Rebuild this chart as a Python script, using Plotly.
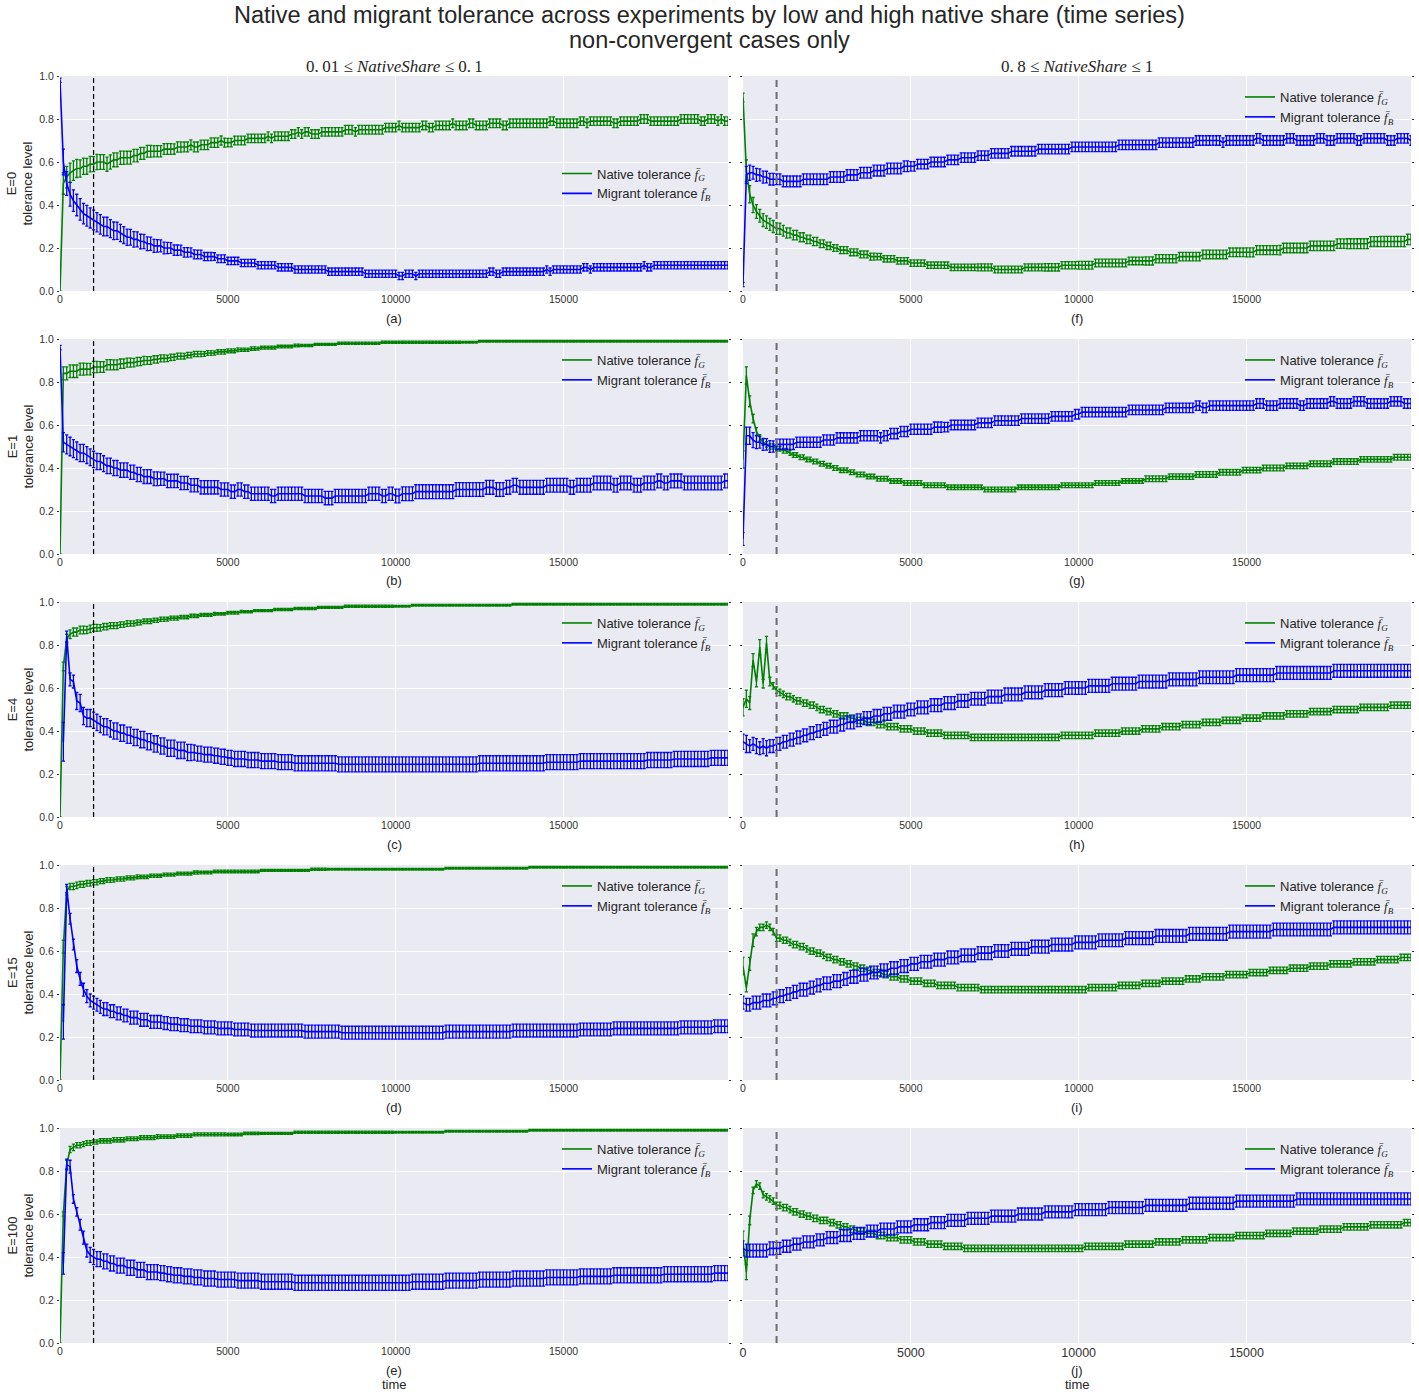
import plotly.graph_objects as go

W, H = 1419, 1392

# ---------------------------------------------------------------- data
time = list(range(0, 20000, 100))
burn_in = 1000
exposure_labels = ["E=0", "E=1", "E=4", "E=15", "E=100"]
panel_letters = ["a", "b", "c", "d", "e", "f", "g", "h", "i", "j"]
column_titles = ["0.\u200901 \u2264 <i>NativeShare</i> \u2264 0.\u20091",
                 "0.\u20098 \u2264 <i>NativeShare</i> \u2264 1"]
title_lines = ["Native and migrant tolerance across experiments by low and "
               "high native share (time series)",
               "non-convergent cases only"]
x_ticks = [0, 5000, 10000, 15000]
y_ticks = [0.0, 0.2, 0.4, 0.6, 0.8, 1.0]

# mean tolerance in percent, error half-widths in thousandths

# (a) E=0, low native share
a_native = [
    0, 50, 53, 55, 56, 57, 57, 58, 58, 59,
    59, 60, 60, 60, 59, 60, 61, 61, 62, 62,
    62, 62, 63, 63, 64, 64, 65, 65, 65, 65,
    65, 66, 66, 66, 66, 67, 67, 67, 67, 68,
    67, 67, 68, 68, 68, 69, 69, 69, 70, 69,
    69, 69, 70, 70, 70, 70, 71, 71, 71, 71,
    71, 71, 72, 71, 72, 72, 72, 72, 72, 73,
    73, 74, 73, 74, 74, 73, 73, 73, 74, 74,
    74, 74, 74, 74, 74, 75, 75, 75, 74, 75,
    75, 75, 75, 75, 75, 75, 75, 76, 76, 76,
    76, 77, 76, 76, 76, 76, 76, 76, 77, 77,
    76, 76, 77, 77, 77, 77, 77, 78, 77, 77,
    77, 77, 78, 78, 77, 77, 77, 77, 78, 78,
    78, 78, 77, 77, 78, 78, 78, 78, 78, 78,
    78, 78, 78, 78, 78, 78, 79, 79, 78, 78,
    78, 78, 78, 78, 78, 79, 79, 78, 79, 79,
    79, 79, 79, 79, 79, 78, 78, 79, 79, 79,
    79, 79, 79, 80, 80, 80, 79, 79, 79, 79,
    79, 79, 79, 79, 79, 80, 80, 80, 80, 80,
    80, 79, 79, 80, 80, 80, 79, 80, 79, 79,
]
a_native_err = [
    0, 50, 50, 45, 45, 42, 40, 38, 37, 36,
    35, 35, 34, 34, 33, 33, 32, 32, 31, 31,
    30, 30, 29, 29, 28, 28, 27, 27, 26, 26,
    26, 25, 25, 25, 24, 24, 24, 23, 23, 23,
    23, 23, 22, 22, 22, 22, 22, 22, 21, 21,
    20, 20, 20, 20, 20, 20, 20, 20, 20, 20,
    20, 20, 20, 20, 20, 20, 20, 20, 20, 20,
    20, 20, 20, 20, 20, 20, 20, 20, 20, 20,
    20, 20, 20, 20, 20, 20, 20, 20, 20, 20,
    20, 20, 20, 20, 20, 20, 20, 20, 20, 20,
    20, 20, 20, 20, 20, 20, 20, 20, 20, 20,
    20, 20, 20, 20, 20, 20, 20, 20, 20, 20,
    20, 20, 20, 20, 20, 20, 20, 20, 20, 20,
    20, 20, 20, 20, 20, 20, 20, 20, 20, 20,
    20, 20, 20, 20, 20, 20, 20, 20, 20, 20,
    20, 20, 20, 20, 20, 20, 20, 20, 20, 20,
    20, 20, 20, 20, 20, 20, 20, 20, 20, 20,
    20, 20, 20, 20, 20, 20, 20, 20, 20, 20,
    20, 20, 20, 20, 20, 20, 20, 20, 20, 20,
    20, 20, 20, 20, 20, 20, 20, 20, 20, 20,
]
a_migrant = [
    98, 60, 50, 45, 42, 40, 38, 36, 35, 34,
    33, 32, 31, 30, 30, 29, 28, 28, 27, 26,
    25, 25, 24, 24, 23, 23, 22, 22, 21, 21,
    21, 20, 20, 20, 19, 19, 19, 18, 18, 18,
    17, 17, 17, 16, 16, 16, 16, 15, 15, 15,
    14, 14, 14, 14, 13, 13, 13, 13, 13, 12,
    12, 12, 12, 12, 12, 11, 11, 11, 11, 11,
    10, 10, 10, 10, 10, 10, 10, 10, 10, 10,
    9, 9, 9, 9, 9, 9, 9, 9, 9, 9,
    9, 8, 8, 8, 8, 8, 8, 8, 8, 8,
    8, 7, 7, 8, 8, 8, 7, 8, 8, 8,
    8, 8, 8, 8, 8, 8, 8, 8, 8, 8,
    8, 8, 8, 8, 8, 8, 8, 8, 9, 9,
    8, 8, 9, 9, 9, 9, 9, 9, 9, 9,
    9, 9, 9, 9, 9, 10, 9, 10, 10, 10,
    10, 10, 10, 10, 10, 10, 11, 11, 10, 11,
    11, 11, 11, 11, 11, 11, 11, 11, 11, 11,
    11, 11, 11, 11, 12, 11, 11, 12, 12, 12,
    12, 12, 12, 12, 12, 12, 12, 12, 12, 12,
    12, 12, 12, 12, 12, 12, 12, 12, 12, 12,
]
a_migrant_err = [
    10, 60, 55, 55, 50, 50, 50, 48, 48, 47,
    46, 45, 45, 44, 43, 42, 41, 40, 40, 39,
    38, 37, 36, 35, 34, 33, 32, 31, 30, 29,
    28, 27, 26, 25, 24, 24, 23, 22, 22, 21,
    21, 20, 20, 19, 19, 19, 18, 18, 18, 18,
    17, 17, 17, 17, 17, 17, 17, 17, 17, 17,
    17, 17, 17, 17, 17, 17, 17, 17, 17, 17,
    17, 17, 17, 17, 17, 17, 17, 17, 17, 17,
    17, 17, 17, 17, 17, 17, 17, 17, 17, 17,
    17, 17, 17, 17, 17, 17, 17, 17, 17, 17,
    17, 17, 17, 17, 17, 17, 17, 17, 17, 17,
    17, 17, 17, 17, 17, 17, 17, 17, 17, 17,
    17, 17, 17, 17, 17, 17, 17, 17, 17, 17,
    17, 17, 17, 17, 17, 17, 17, 17, 17, 17,
    17, 17, 17, 17, 17, 17, 17, 17, 17, 17,
    17, 17, 17, 17, 17, 17, 17, 17, 17, 17,
    17, 17, 17, 17, 17, 17, 17, 17, 17, 17,
    17, 17, 17, 17, 17, 17, 17, 17, 17, 17,
    17, 17, 17, 17, 17, 17, 17, 17, 17, 17,
    17, 17, 17, 17, 17, 17, 17, 17, 17, 17,
]

# (b) E=1, low native share
b_native = [
    0, 84, 84, 85, 85, 85, 86, 86, 86, 86,
    87, 87, 87, 87, 88, 88, 88, 88, 88.5, 88.5,
    89, 89, 89, 89.5, 89.5, 90, 90, 90, 90.5, 90.5,
    91, 91, 91, 91.5, 91.5, 92, 92, 92, 92.5, 92.5,
    93, 93, 93, 93, 93.5, 93.5, 93.5, 94, 94, 94,
    94.5, 94.5, 94.5, 95, 95, 95, 95, 95.5, 95.5, 95.5,
    96, 96, 96, 96, 96, 96.5, 96.5, 96.5, 96.5, 96.5,
    97, 97, 97, 97, 97, 97, 97.5, 97.5, 97.5, 97.5,
    97.5, 97.5, 97.5, 98, 98, 98, 98, 98, 98, 98,
    98, 98, 98, 98, 98, 98, 98.5, 98.5, 98.5, 98.5,
    98.5, 98.5, 98.5, 98.5, 98.5, 98.5, 98.5, 98.5, 98.5, 98.5,
    98.5, 98.5, 98.5, 98.5, 98.5, 98.5, 98.5, 98.5, 98.5, 98.5,
    98.5, 98.5, 98.5, 98.5, 98.5, 99, 99, 99, 99, 99,
    99, 99, 99, 99, 99, 99, 99, 99, 99, 99,
    99, 99, 99, 99, 99, 99, 99, 99, 99, 99,
    99, 99, 99, 99, 99, 99, 99, 99, 99, 99,
    99, 99, 99, 99, 99, 99, 99, 99, 99, 99,
    99, 99, 99, 99, 99, 99, 99, 99, 99, 99,
    99, 99, 99, 99, 99, 99, 99, 99, 99, 99,
    99, 99, 99, 99, 99, 99, 99, 99, 99, 99,
]
b_native_err = [
    0, 30, 30, 30, 29, 29, 28, 28, 27, 27,
    26, 26, 25, 25, 24, 24, 23, 23, 22, 22,
    21, 21, 20, 20, 19, 19, 18, 18, 17, 17,
    16, 16, 15, 15, 14, 14, 14, 13, 13, 13,
    12, 12, 12, 11, 11, 11, 10, 10, 10, 10,
    9, 9, 9, 9, 8, 8, 8, 8, 8, 7,
    7, 7, 7, 7, 7, 6, 6, 6, 6, 6,
    6, 6, 5, 5, 5, 5, 5, 5, 5, 5,
    5, 5, 5, 5, 5, 5, 5, 5, 5, 5,
    5, 5, 5, 5, 5, 5, 5, 5, 5, 5,
    5, 5, 5, 5, 5, 5, 5, 5, 5, 5,
    5, 5, 5, 5, 5, 5, 5, 5, 5, 5,
    4, 4, 4, 4, 4, 4, 4, 4, 4, 4,
    4, 4, 4, 4, 4, 4, 4, 4, 4, 4,
    4, 4, 4, 4, 4, 4, 4, 4, 4, 4,
    4, 4, 4, 4, 4, 4, 4, 4, 4, 4,
    4, 4, 4, 4, 4, 4, 4, 4, 4, 4,
    4, 4, 4, 4, 4, 4, 4, 4, 4, 4,
    4, 4, 4, 4, 4, 4, 4, 4, 4, 4,
    4, 4, 4, 4, 4, 4, 4, 4, 4, 4,
]
b_migrant = [
    96, 52, 51, 50, 49, 48, 47, 47, 46, 45,
    44, 43, 43, 42, 41, 41, 40, 40, 39, 39,
    39, 38, 38, 37, 37, 36, 36, 36, 35, 35,
    35, 35, 34, 34, 34, 34, 33, 33, 33, 32,
    32, 32, 31, 31, 31, 31, 31, 31, 30, 30,
    30, 29, 29, 30, 30, 29, 29, 28, 28, 28,
    28, 28, 28, 27, 27, 28, 28, 28, 28, 28,
    28, 28, 28, 27, 27, 27, 27, 27, 27, 26,
    26, 26, 27, 27, 27, 27, 27, 27, 27, 27,
    27, 27, 28, 28, 28, 28, 27, 27, 28, 28,
    27, 27, 28, 28, 28, 28, 29, 29, 29, 29,
    29, 29, 29, 29, 29, 29, 29, 29, 30, 30,
    30, 30, 30, 30, 30, 30, 30, 31, 31, 31,
    30, 30, 30, 31, 31, 32, 32, 31, 31, 31,
    31, 31, 31, 31, 31, 32, 32, 32, 32, 32,
    32, 32, 31, 31, 32, 32, 32, 32, 32, 33,
    33, 33, 33, 33, 33, 32, 32, 33, 33, 33,
    33, 32, 32, 32, 33, 33, 33, 33, 34, 34,
    33, 33, 34, 34, 34, 34, 33, 33, 33, 33,
    33, 33, 33, 33, 33, 33, 33, 33, 34, 34,
]
b_migrant_err = [
    10, 45, 44, 43, 42, 41, 40, 40, 39, 39,
    38, 38, 37, 37, 36, 36, 35, 35, 34, 34,
    34, 33, 33, 33, 33, 32, 32, 32, 32, 32,
    31, 31, 31, 31, 31, 31, 31, 31, 31, 31,
    31, 31, 31, 31, 31, 31, 31, 31, 31, 31,
    31, 31, 31, 31, 31, 31, 31, 31, 31, 31,
    31, 31, 31, 31, 31, 31, 31, 31, 31, 31,
    31, 31, 31, 31, 31, 31, 31, 31, 31, 31,
    31, 31, 31, 31, 31, 31, 31, 31, 31, 31,
    31, 31, 31, 31, 31, 31, 31, 31, 31, 31,
    32, 32, 32, 32, 32, 32, 32, 32, 32, 32,
    32, 32, 32, 32, 32, 32, 32, 32, 32, 32,
    32, 32, 32, 32, 32, 32, 32, 32, 32, 32,
    32, 32, 32, 32, 32, 32, 32, 32, 32, 32,
    32, 32, 32, 32, 32, 32, 32, 32, 32, 32,
    32, 32, 32, 32, 32, 32, 32, 32, 32, 32,
    32, 32, 32, 32, 32, 32, 32, 32, 32, 32,
    32, 32, 32, 32, 32, 32, 32, 32, 32, 32,
    32, 32, 32, 32, 32, 32, 32, 32, 32, 32,
    32, 32, 32, 32, 32, 32, 32, 32, 32, 32,
]

# (c) E=4, low native share
c_native = [
    0, 70, 83, 85, 86, 86, 87, 87, 87, 87.5,
    88, 88, 88, 88.5, 88.5, 89, 89, 89, 89.5, 89.5,
    90, 90, 90, 90.5, 90.5, 91, 91, 91, 91.5, 91.5,
    92, 92, 92, 92.5, 92.5, 92.5, 93, 93, 93, 93.5,
    93.5, 93.5, 94, 94, 94, 94, 94.5, 94.5, 94.5, 94.5,
    95, 95, 95, 95, 95.5, 95.5, 95.5, 95.5, 96, 96,
    96, 96, 96, 96, 96.5, 96.5, 96.5, 96.5, 96.5, 96.5,
    97, 97, 97, 97, 97, 97, 97, 97.5, 97.5, 97.5,
    97.5, 97.5, 97.5, 97.5, 97.5, 98, 98, 98, 98, 98,
    98, 98, 98, 98, 98, 98, 98, 98, 98, 98,
    98, 98, 98, 98, 98, 98.5, 98.5, 98.5, 98.5, 98.5,
    98.5, 98.5, 98.5, 98.5, 98.5, 98.5, 98.5, 98.5, 98.5, 98.5,
    98.5, 98.5, 98.5, 98.5, 98.5, 98.5, 98.5, 98.5, 98.5, 98.5,
    98.5, 98.5, 98.5, 98.5, 98.5, 99, 99, 99, 99, 99,
    99, 99, 99, 99, 99, 99, 99, 99, 99, 99,
    99, 99, 99, 99, 99, 99, 99, 99, 99, 99,
    99, 99, 99, 99, 99, 99, 99, 99, 99, 99,
    99, 99, 99, 99, 99, 99, 99, 99, 99, 99,
    99, 99, 99, 99, 99, 99, 99, 99, 99, 99,
    99, 99, 99, 99, 99, 99, 99, 99, 99, 99,
]
c_native_err = [
    0, 20, 20, 20, 19, 19, 18, 18, 17, 17,
    16, 16, 15, 15, 15, 14, 14, 14, 13, 13,
    13, 12, 12, 12, 11, 11, 11, 11, 10, 10,
    10, 10, 9, 9, 9, 9, 8, 8, 8, 8,
    8, 7, 7, 7, 7, 7, 7, 6, 6, 6,
    6, 6, 6, 6, 6, 5, 5, 5, 5, 5,
    5, 5, 5, 5, 5, 5, 5, 5, 5, 5,
    5, 5, 5, 5, 5, 5, 5, 5, 5, 5,
    5, 5, 5, 5, 5, 5, 5, 5, 5, 5,
    5, 5, 5, 5, 5, 5, 5, 5, 5, 5,
    4, 4, 4, 4, 4, 4, 4, 4, 4, 4,
    4, 4, 4, 4, 4, 4, 4, 4, 4, 4,
    4, 4, 4, 4, 4, 4, 4, 4, 4, 4,
    4, 4, 4, 4, 4, 4, 4, 4, 4, 4,
    4, 4, 4, 4, 4, 4, 4, 4, 4, 4,
    4, 4, 4, 4, 4, 4, 4, 4, 4, 4,
    4, 4, 4, 4, 4, 4, 4, 4, 4, 4,
    4, 4, 4, 4, 4, 4, 4, 4, 4, 4,
    4, 4, 4, 4, 4, 4, 4, 4, 4, 4,
    4, 4, 4, 4, 4, 4, 4, 4, 4, 4,
]
c_migrant = [
    None, 35, 84, 64, 63, 54, 53, 47, 46, 46,
    45, 44, 43, 42, 42, 41, 40, 40, 39, 39,
    38, 38, 37, 37, 36, 36, 35, 35, 34, 34,
    33, 33, 32, 32, 32, 31, 31, 31, 30, 30,
    30, 29.5, 29.5, 29, 29, 29, 28.5, 28.5, 28, 28,
    27.5, 27.5, 27, 27, 27, 27, 26.5, 26.5, 26.5, 26.5,
    26, 26, 26, 26, 26, 25.5, 25.5, 25.5, 25.5, 25.5,
    25, 25, 25, 25, 25, 25, 25, 25, 25, 25,
    25, 25, 25, 24.5, 24.5, 24.5, 24.5, 24.5, 24.5, 24.5,
    24.5, 24.5, 24.5, 24.5, 24.5, 24.5, 24.5, 24.5, 24.5, 24.5,
    24.5, 24.5, 24.5, 24.5, 24.5, 24.5, 24.5, 24.5, 24.5, 24.5,
    24.5, 24.5, 24.5, 24.5, 24.5, 24.5, 24.5, 24.5, 24.5, 24.5,
    24.5, 24.5, 24.5, 24.5, 24.5, 25, 25, 25, 25, 25,
    25, 25, 25, 25, 25, 25, 25, 25, 25, 25,
    25, 25, 25, 25, 25, 25.5, 25.5, 25.5, 25.5, 25.5,
    25.5, 25.5, 25.5, 25.5, 25.5, 26, 26, 26, 26, 26,
    26, 26, 26, 26, 26, 26, 26, 26, 26, 26,
    26, 26, 26, 26, 26, 26.5, 26.5, 26.5, 26.5, 26.5,
    26.5, 26.5, 26.5, 27, 27, 27, 27, 27, 27, 27,
    27, 27, 27, 27, 27.5, 27.5, 27.5, 27.5, 27.5, 27.5,
]
c_migrant_err = [
    0, 90, 25, 30, 30, 40, 40, 40, 40, 40,
    38, 38, 38, 38, 38, 38, 38, 38, 38, 38,
    38, 38, 38, 38, 38, 38, 38, 38, 38, 38,
    38, 38, 38, 38, 38, 38, 38, 38, 38, 38,
    35, 35, 35, 35, 35, 35, 35, 35, 35, 35,
    35, 35, 35, 35, 35, 35, 35, 35, 35, 35,
    35, 35, 35, 35, 35, 35, 35, 35, 35, 35,
    35, 35, 35, 35, 35, 35, 35, 35, 35, 35,
    35, 35, 35, 35, 35, 35, 35, 35, 35, 35,
    35, 35, 35, 35, 35, 35, 35, 35, 35, 35,
    35, 35, 35, 35, 35, 35, 35, 35, 35, 35,
    35, 35, 35, 35, 35, 35, 35, 35, 35, 35,
    35, 35, 35, 35, 35, 35, 35, 35, 35, 35,
    35, 35, 35, 35, 35, 35, 35, 35, 35, 35,
    35, 35, 35, 35, 35, 35, 35, 35, 35, 35,
    35, 35, 35, 35, 35, 35, 35, 35, 35, 35,
    35, 35, 35, 35, 35, 35, 35, 35, 35, 35,
    35, 35, 35, 35, 35, 35, 35, 35, 35, 35,
    35, 35, 35, 35, 35, 35, 35, 35, 35, 35,
    35, 35, 35, 35, 35, 35, 35, 35, 35, 35,
]

# (d) E=15, low native share
d_native = [
    0, 62, 88, 90, 90, 90.5, 91, 91, 91.5, 91.5,
    92, 92, 92.5, 92.5, 93, 93, 93, 93.5, 93.5, 93.5,
    94, 94, 94, 94.5, 94.5, 94.5, 94.5, 95, 95, 95,
    95, 95.5, 95.5, 95.5, 95.5, 96, 96, 96, 96, 96,
    96.5, 96.5, 96.5, 96.5, 96.5, 96.5, 97, 97, 97, 97,
    97, 97, 97, 97, 97, 97, 97, 97, 97, 97,
    97.5, 97.5, 97.5, 97.5, 97.5, 97.5, 97.5, 97.5, 97.5, 97.5,
    97.5, 97.5, 97.5, 97.5, 97.5, 98, 98, 98, 98, 98,
    98, 98, 98, 98, 98, 98, 98, 98, 98, 98,
    98, 98, 98, 98, 98, 98, 98, 98, 98, 98,
    98, 98, 98, 98, 98, 98, 98, 98, 98, 98,
    98, 98, 98, 98, 98, 98.5, 98.5, 98.5, 98.5, 98.5,
    98.5, 98.5, 98.5, 98.5, 98.5, 98.5, 98.5, 98.5, 98.5, 98.5,
    98.5, 98.5, 98.5, 98.5, 98.5, 98.5, 98.5, 98.5, 98.5, 98.5,
    99, 99, 99, 99, 99, 99, 99, 99, 99, 99,
    99, 99, 99, 99, 99, 99, 99, 99, 99, 99,
    99, 99, 99, 99, 99, 99, 99, 99, 99, 99,
    99, 99, 99, 99, 99, 99, 99, 99, 99, 99,
    99, 99, 99, 99, 99, 99, 99, 99, 99, 99,
    99, 99, 99, 99, 99, 99, 99, 99, 99, 99,
]
d_native_err = [
    0, 30, 20, 15, 15, 15, 14, 14, 13, 13,
    12, 12, 12, 11, 11, 11, 10, 10, 10, 10,
    9, 9, 9, 9, 8, 8, 8, 8, 8, 8,
    7, 7, 7, 7, 7, 7, 7, 7, 7, 7,
    7, 7, 6, 6, 6, 6, 6, 6, 6, 6,
    6, 6, 6, 6, 6, 6, 6, 6, 6, 6,
    5, 5, 5, 5, 5, 5, 5, 5, 5, 5,
    5, 5, 5, 5, 5, 5, 5, 5, 5, 5,
    4, 4, 4, 4, 4, 4, 4, 4, 4, 4,
    4, 4, 4, 4, 4, 4, 4, 4, 4, 4,
    4, 4, 4, 4, 4, 4, 4, 4, 4, 4,
    4, 4, 4, 4, 4, 4, 4, 4, 4, 4,
    4, 4, 4, 4, 4, 4, 4, 4, 4, 4,
    4, 4, 4, 4, 4, 4, 4, 4, 4, 4,
    4, 4, 4, 4, 4, 4, 4, 4, 4, 4,
    4, 4, 4, 4, 4, 4, 4, 4, 4, 4,
    4, 4, 4, 4, 4, 4, 4, 4, 4, 4,
    4, 4, 4, 4, 4, 4, 4, 4, 4, 4,
    4, 4, 4, 4, 4, 4, 4, 4, 4, 4,
    4, 4, 4, 4, 4, 4, 4, 4, 4, 4,
]
d_migrant = [
    None, 27, 89, 75, 63, 53, 47, 42, 39, 37,
    36, 35, 34, 33, 33, 32, 32, 31, 31, 30,
    30, 29, 29, 29, 28, 28, 28, 27, 27, 27,
    27, 26.5, 26.5, 26, 26, 26, 25.5, 25.5, 25.5, 25,
    25, 25, 25, 24.5, 24.5, 24.5, 24.5, 24, 24, 24,
    24, 24, 23.5, 23.5, 23.5, 23.5, 23.5, 23, 23, 23,
    23, 23, 23, 23, 23, 23, 23, 23, 23, 23,
    23, 23, 23, 22.5, 22.5, 22.5, 22.5, 22.5, 22.5, 22.5,
    22.5, 22.5, 22.5, 22.5, 22, 22, 22, 22, 22, 22,
    22, 22, 22, 22, 22, 22, 22, 22, 22, 22,
    22, 22, 22, 22, 22, 22, 22, 22, 22, 22,
    22, 22, 22, 22, 22, 22.5, 22.5, 22.5, 22.5, 22.5,
    22.5, 22.5, 22.5, 22.5, 22.5, 22.5, 22.5, 22.5, 22.5, 22.5,
    22.5, 22.5, 22.5, 22.5, 22.5, 23, 23, 23, 23, 23,
    23, 23, 23, 23, 23, 23, 23, 23, 23, 23,
    23, 23, 23, 23, 23, 23.5, 23.5, 23.5, 23.5, 23.5,
    23.5, 23.5, 23.5, 23.5, 23.5, 24, 24, 24, 24, 24,
    24, 24, 24, 24, 24, 24, 24, 24, 24, 24,
    24, 24, 24, 24, 24, 24.5, 24.5, 24.5, 24.5, 24.5,
    24.5, 24.5, 24.5, 24.5, 24.5, 25, 25, 25, 25, 25,
]
d_migrant_err = [
    0, 80, 20, 25, 25, 30, 30, 30, 30, 30,
    30, 30, 30, 30, 30, 30, 30, 30, 30, 30,
    30, 30, 30, 30, 30, 30, 30, 30, 30, 30,
    30, 30, 30, 30, 30, 30, 30, 30, 30, 30,
    30, 30, 30, 30, 30, 30, 30, 30, 30, 30,
    30, 30, 30, 30, 30, 30, 30, 30, 30, 30,
    30, 30, 30, 30, 30, 30, 30, 30, 30, 30,
    30, 30, 30, 30, 30, 30, 30, 30, 30, 30,
    30, 30, 30, 30, 30, 30, 30, 30, 30, 30,
    30, 30, 30, 30, 30, 30, 30, 30, 30, 30,
    30, 30, 30, 30, 30, 30, 30, 30, 30, 30,
    30, 30, 30, 30, 30, 30, 30, 30, 30, 30,
    30, 30, 30, 30, 30, 30, 30, 30, 30, 30,
    30, 30, 30, 30, 30, 30, 30, 30, 30, 30,
    30, 30, 30, 30, 30, 30, 30, 30, 30, 30,
    30, 30, 30, 30, 30, 30, 30, 30, 30, 30,
    30, 30, 30, 30, 30, 30, 30, 30, 30, 30,
    30, 30, 30, 30, 30, 30, 30, 30, 30, 30,
    30, 30, 30, 30, 30, 30, 30, 30, 30, 30,
    30, 30, 30, 30, 30, 30, 30, 30, 30, 30,
]

# (e) E=100, low native share
e_native = [
    0, 60, 83, 90, 91, 92, 92, 92.5, 93, 93,
    93.5, 93.5, 94, 94, 94, 94, 94.5, 94.5, 94.5, 94.5,
    95, 95, 95, 95, 95.5, 95.5, 95.5, 95.5, 95.5, 96,
    96, 96, 96, 96, 96, 96.5, 96.5, 96.5, 96.5, 96.5,
    97, 97, 97, 97, 97, 97, 97, 97, 97, 97,
    97, 97, 97, 97, 97, 97.5, 97.5, 97.5, 97.5, 97.5,
    97.5, 97.5, 97.5, 97.5, 97.5, 97.5, 97.5, 97.5, 97.5, 97.5,
    98, 98, 98, 98, 98, 98, 98, 98, 98, 98,
    98, 98, 98, 98, 98, 98, 98, 98, 98, 98,
    98, 98, 98, 98, 98, 98, 98, 98, 98, 98,
    98, 98, 98, 98, 98, 98, 98, 98, 98, 98,
    98, 98, 98, 98, 98, 98.5, 98.5, 98.5, 98.5, 98.5,
    98.5, 98.5, 98.5, 98.5, 98.5, 98.5, 98.5, 98.5, 98.5, 98.5,
    98.5, 98.5, 98.5, 98.5, 98.5, 98.5, 98.5, 98.5, 98.5, 98.5,
    99, 99, 99, 99, 99, 99, 99, 99, 99, 99,
    99, 99, 99, 99, 99, 99, 99, 99, 99, 99,
    99, 99, 99, 99, 99, 99, 99, 99, 99, 99,
    99, 99, 99, 99, 99, 99, 99, 99, 99, 99,
    99, 99, 99, 99, 99, 99, 99, 99, 99, 99,
    99, 99, 99, 99, 99, 99, 99, 99, 99, 99,
]
e_native_err = [
    0, 10, 20, 15, 15, 12, 12, 12, 11, 11,
    10, 10, 10, 10, 10, 10, 10, 10, 10, 10,
    9, 9, 9, 9, 9, 9, 9, 9, 9, 9,
    8, 8, 8, 8, 8, 8, 8, 8, 8, 8,
    7, 7, 7, 7, 7, 7, 7, 7, 7, 7,
    6, 6, 6, 6, 6, 6, 6, 6, 6, 6,
    5, 5, 5, 5, 5, 5, 5, 5, 5, 5,
    5, 5, 5, 5, 5, 5, 5, 5, 5, 5,
    5, 5, 5, 5, 5, 5, 5, 5, 5, 5,
    5, 5, 5, 5, 5, 5, 5, 5, 5, 5,
    4, 4, 4, 4, 4, 4, 4, 4, 4, 4,
    4, 4, 4, 4, 4, 4, 4, 4, 4, 4,
    4, 4, 4, 4, 4, 4, 4, 4, 4, 4,
    4, 4, 4, 4, 4, 4, 4, 4, 4, 4,
    4, 4, 4, 4, 4, 4, 4, 4, 4, 4,
    4, 4, 4, 4, 4, 4, 4, 4, 4, 4,
    4, 4, 4, 4, 4, 4, 4, 4, 4, 4,
    4, 4, 4, 4, 4, 4, 4, 4, 4, 4,
    4, 4, 4, 4, 4, 4, 4, 4, 4, 4,
    4, 4, 4, 4, 4, 4, 4, 4, 4, 4,
]
e_migrant = [
    None, 37, 83, 82, 67, 61, 55, 49, 43, 41,
    40, 39, 39, 38, 38, 37, 37, 36, 36, 36,
    35, 35, 35, 34, 34, 34, 33, 33, 33, 33,
    32.5, 32.5, 32, 32, 31.5, 31.5, 31.5, 31, 31, 31,
    30.5, 30.5, 30.5, 30, 30, 30, 30, 29.5, 29.5, 29.5,
    29.5, 29.5, 29.5, 29, 29, 29, 29, 29, 29, 29,
    28.5, 28.5, 28.5, 28.5, 28.5, 28.5, 28.5, 28.5, 28.5, 28.5,
    28, 28, 28, 28, 28, 28, 28, 28, 28, 28,
    28, 28, 28, 28, 28, 28, 28, 28, 28, 28,
    28, 28, 28, 28, 28, 28, 28, 28, 28, 28,
    28, 28, 28, 28, 28, 28.5, 28.5, 28.5, 28.5, 28.5,
    28.5, 28.5, 28.5, 28.5, 28.5, 29, 29, 29, 29, 29,
    29, 29, 29, 29, 29, 29.5, 29.5, 29.5, 29.5, 29.5,
    29.5, 29.5, 29.5, 29.5, 29.5, 30, 30, 30, 30, 30,
    30, 30, 30, 30, 30, 30.5, 30.5, 30.5, 30.5, 30.5,
    30.5, 30.5, 30.5, 30.5, 30.5, 31, 31, 31, 31, 31,
    31, 31, 31, 31, 31, 31.5, 31.5, 31.5, 31.5, 31.5,
    31.5, 31.5, 31.5, 31.5, 31.5, 31.5, 31.5, 31.5, 31.5, 31.5,
    32, 32, 32, 32, 32, 32, 32, 32, 32, 32,
    32, 32, 32, 32, 32, 32.5, 32.5, 32.5, 32.5, 32.5,
]
e_migrant_err = [
    0, 50, 25, 30, 20, 20, 25, 30, 30, 35,
    35, 35, 35, 35, 35, 35, 35, 35, 35, 35,
    35, 35, 35, 35, 35, 35, 35, 35, 35, 35,
    35, 35, 35, 35, 35, 35, 35, 35, 35, 35,
    35, 35, 35, 35, 35, 35, 35, 35, 35, 35,
    35, 35, 35, 35, 35, 35, 35, 35, 35, 35,
    35, 35, 35, 35, 35, 35, 35, 35, 35, 35,
    35, 35, 35, 35, 35, 35, 35, 35, 35, 35,
    35, 35, 35, 35, 35, 35, 35, 35, 35, 35,
    35, 35, 35, 35, 35, 35, 35, 35, 35, 35,
    35, 35, 35, 35, 35, 35, 35, 35, 35, 35,
    35, 35, 35, 35, 35, 35, 35, 35, 35, 35,
    35, 35, 35, 35, 35, 35, 35, 35, 35, 35,
    35, 35, 35, 35, 35, 35, 35, 35, 35, 35,
    35, 35, 35, 35, 35, 35, 35, 35, 35, 35,
    35, 35, 35, 35, 35, 35, 35, 35, 35, 35,
    35, 35, 35, 35, 35, 35, 35, 35, 35, 35,
    35, 35, 35, 35, 35, 35, 35, 35, 35, 35,
    35, 35, 35, 35, 35, 35, 35, 35, 35, 35,
    35, 35, 35, 35, 35, 35, 35, 35, 35, 35,
]

# (f) E=0, high native share
f_native = [
    90, 56, 45, 40, 37, 35, 33, 32, 31, 30,
    29, 29, 28, 27, 27, 26, 26, 25, 25, 24,
    24, 23, 23, 22, 22, 21, 21, 20, 20, 19,
    19, 19, 18, 18, 18, 17, 17, 17, 16, 16,
    16, 16, 15, 15, 15, 15, 14, 14, 14, 14,
    13, 13, 13, 13, 13, 12, 12, 12, 12, 12,
    12, 12, 11, 11, 11, 11, 11, 11, 11, 11,
    11, 11, 11, 11, 11, 10, 10, 10, 10, 10,
    10, 10, 10, 10, 11, 11, 11, 11, 11, 11,
    11, 11, 11, 11, 11, 12, 12, 12, 12, 12,
    12, 12, 12, 12, 12, 13, 13, 13, 13, 13,
    13, 13, 13, 13, 13, 14, 14, 14, 14, 14,
    14, 14, 14, 15, 15, 15, 15, 15, 15, 15,
    16, 16, 16, 16, 16, 16, 16, 17, 17, 17,
    17, 17, 17, 17, 17, 18, 18, 18, 18, 18,
    18, 18, 18, 19, 19, 19, 19, 19, 19, 19,
    19, 20, 20, 20, 20, 20, 20, 20, 20, 21,
    21, 21, 21, 21, 21, 21, 21, 22, 22, 22,
    22, 22, 22, 22, 22, 22, 22, 23, 23, 23,
    23, 23, 23, 23, 23, 23, 23, 23, 24, 24,
]
f_native_err = [
    20, 50, 40, 35, 32, 30, 30, 29, 28, 28,
    27, 26, 25, 24, 23, 22, 22, 21, 21, 20,
    20, 19, 19, 18, 18, 17, 17, 16, 16, 16,
    16, 16, 16, 16, 16, 16, 16, 16, 16, 16,
    15, 15, 15, 15, 15, 15, 15, 15, 15, 15,
    15, 15, 15, 15, 15, 15, 15, 15, 15, 15,
    15, 15, 15, 15, 15, 15, 15, 15, 15, 15,
    16, 16, 16, 16, 16, 16, 16, 16, 16, 16,
    16, 16, 16, 16, 16, 16, 16, 16, 16, 16,
    17, 17, 17, 17, 17, 17, 17, 17, 17, 17,
    18, 18, 18, 18, 18, 18, 18, 18, 18, 18,
    18, 18, 18, 18, 18, 18, 18, 18, 18, 18,
    19, 19, 19, 19, 19, 19, 19, 19, 19, 19,
    20, 20, 20, 20, 20, 20, 20, 20, 20, 20,
    20, 20, 20, 20, 20, 20, 20, 20, 20, 20,
    21, 21, 21, 21, 21, 21, 21, 21, 21, 21,
    22, 22, 22, 22, 22, 22, 22, 22, 22, 22,
    22, 22, 22, 22, 22, 22, 22, 22, 22, 22,
    23, 23, 23, 23, 23, 23, 23, 23, 23, 23,
    24, 24, 24, 24, 24, 24, 24, 24, 24, 24,
]
f_migrant = [
    3, 54, 55, 55, 54, 54, 53, 53, 52, 52,
    52, 52, 51, 51, 51, 51, 51, 51, 52, 52,
    52, 52, 52, 52, 52, 52, 53, 53, 53, 53,
    53, 54, 54, 54, 54, 55, 55, 55, 55, 56,
    56, 56, 56, 57, 57, 57, 57, 57, 58, 58,
    58, 58, 59, 59, 59, 59, 60, 60, 60, 60,
    60, 61, 61, 61, 61, 62, 62, 62, 62, 62,
    63, 63, 63, 63, 64, 64, 64, 64, 64, 64,
    65, 65, 65, 65, 65, 65, 65, 65, 66, 66,
    66, 66, 66, 66, 66, 66, 66, 66, 67, 67,
    67, 67, 67, 67, 67, 67, 67, 67, 67, 67,
    67, 67, 68, 68, 68, 68, 68, 68, 68, 68,
    68, 68, 68, 68, 69, 69, 69, 69, 69, 69,
    69, 69, 69, 69, 69, 70, 70, 70, 70, 70,
    70, 70, 70, 69, 70, 70, 70, 70, 70, 70,
    70, 70, 70, 71, 71, 70, 70, 70, 70, 70,
    70, 70, 71, 71, 71, 70, 70, 70, 70, 70,
    70, 71, 71, 71, 70, 70, 70, 71, 71, 71,
    71, 71, 71, 70, 70, 71, 71, 71, 71, 71,
    71, 71, 70, 70, 70, 71, 71, 71, 71, 70,
]
f_migrant_err = [
    10, 40, 35, 30, 30, 28, 28, 27, 27, 27,
    25, 25, 25, 25, 25, 25, 25, 25, 25, 25,
    25, 25, 25, 25, 25, 25, 25, 25, 25, 25,
    25, 25, 25, 25, 25, 25, 25, 25, 25, 25,
    25, 25, 25, 25, 25, 25, 25, 25, 25, 25,
    22, 22, 22, 22, 22, 22, 22, 22, 22, 22,
    22, 22, 22, 22, 22, 22, 22, 22, 22, 22,
    22, 22, 22, 22, 22, 22, 22, 22, 22, 22,
    22, 22, 22, 22, 22, 22, 22, 22, 22, 22,
    22, 22, 22, 22, 22, 22, 22, 22, 22, 22,
    22, 22, 22, 22, 22, 22, 22, 22, 22, 22,
    22, 22, 22, 22, 22, 22, 22, 22, 22, 22,
    22, 22, 22, 22, 22, 22, 22, 22, 22, 22,
    22, 22, 22, 22, 22, 22, 22, 22, 22, 22,
    22, 22, 22, 22, 22, 22, 22, 22, 22, 22,
    22, 22, 22, 22, 22, 22, 22, 22, 22, 22,
    22, 22, 22, 22, 22, 22, 22, 22, 22, 22,
    22, 22, 22, 22, 22, 22, 22, 22, 22, 22,
    22, 22, 22, 22, 22, 22, 22, 22, 22, 22,
    22, 22, 22, 22, 22, 22, 22, 22, 22, 22,
]

# (g) E=1, high native share
g_native = [
    44, 83, 71, 63, 57, 54, 52, 51, 50, 50,
    49, 49, 48, 48, 47, 46, 46, 45, 45, 44,
    44, 43, 43, 42, 42, 41, 41, 40, 40, 39,
    39, 39, 38, 38, 37, 37, 37, 36, 36, 36,
    35, 35, 35, 35, 34, 34, 34, 34, 33, 33,
    33, 33, 33, 33, 32, 32, 32, 32, 32, 32,
    32, 31, 31, 31, 31, 31, 31, 31, 31, 31,
    31, 31, 30, 30, 30, 30, 30, 30, 30, 30,
    30, 30, 31, 31, 31, 31, 31, 31, 31, 31,
    31, 31, 31, 31, 31, 32, 32, 32, 32, 32,
    32, 32, 32, 32, 32, 33, 33, 33, 33, 33,
    33, 33, 33, 34, 34, 34, 34, 34, 34, 34,
    35, 35, 35, 35, 35, 35, 35, 36, 36, 36,
    36, 36, 36, 36, 36, 37, 37, 37, 37, 37,
    37, 37, 38, 38, 38, 38, 38, 38, 38, 39,
    39, 39, 39, 39, 39, 40, 40, 40, 40, 40,
    40, 40, 41, 41, 41, 41, 41, 41, 41, 42,
    42, 42, 42, 42, 42, 42, 43, 43, 43, 43,
    43, 43, 43, 43, 44, 44, 44, 44, 44, 44,
    44, 44, 44, 44, 45, 45, 45, 45, 45, 45,
]
g_native_err = [
    40, 40, 25, 20, 18, 15, 14, 13, 12, 12,
    11, 11, 11, 11, 11, 11, 11, 11, 11, 11,
    11, 11, 11, 11, 11, 11, 11, 11, 11, 11,
    11, 11, 11, 11, 11, 11, 11, 11, 11, 11,
    11, 11, 11, 11, 11, 11, 11, 11, 11, 11,
    11, 11, 11, 11, 11, 11, 11, 11, 11, 11,
    11, 11, 11, 11, 11, 11, 11, 11, 11, 11,
    11, 11, 11, 11, 11, 11, 11, 11, 11, 11,
    11, 11, 11, 11, 11, 11, 11, 11, 11, 11,
    11, 11, 11, 11, 11, 11, 11, 11, 11, 11,
    11, 11, 11, 11, 11, 11, 11, 11, 11, 11,
    11, 11, 11, 11, 11, 11, 11, 11, 11, 11,
    13, 13, 13, 13, 13, 13, 13, 13, 13, 13,
    13, 13, 13, 13, 13, 13, 13, 13, 13, 13,
    13, 13, 13, 13, 13, 13, 13, 13, 13, 13,
    13, 13, 13, 13, 13, 13, 13, 13, 13, 13,
    13, 13, 13, 13, 13, 13, 13, 13, 13, 13,
    13, 13, 13, 13, 13, 13, 13, 13, 13, 13,
    13, 13, 13, 13, 13, 13, 13, 13, 13, 13,
    13, 13, 13, 13, 13, 13, 13, 13, 13, 13,
]
g_migrant = [
    7, 55, 55, 53, 52, 52, 51, 51, 50, 50,
    51, 51, 51, 51, 51, 51, 52, 52, 52, 52,
    52, 52, 52, 52, 53, 53, 53, 53, 54, 54,
    54, 54, 54, 54, 54, 55, 55, 55, 55, 55,
    55, 54, 55, 55, 56, 56, 56, 57, 57, 57,
    58, 58, 58, 58, 58, 58, 58, 59, 59, 59,
    59, 59, 60, 60, 60, 60, 60, 60, 60, 60,
    61, 61, 61, 61, 61, 62, 62, 62, 62, 62,
    62, 62, 62, 63, 63, 63, 63, 63, 63, 63,
    63, 63, 64, 64, 64, 64, 64, 64, 64, 65,
    65, 66, 66, 66, 66, 66, 66, 66, 66, 66,
    66, 66, 66, 66, 66, 67, 67, 67, 67, 67,
    67, 67, 67, 67, 67, 67, 68, 68, 68, 68,
    68, 68, 68, 68, 68, 69, 69, 68, 68, 69,
    69, 69, 69, 69, 69, 69, 69, 69, 69, 69,
    69, 69, 69, 70, 70, 70, 69, 69, 69, 69,
    70, 70, 70, 70, 70, 70, 69, 69, 70, 70,
    70, 70, 70, 70, 70, 71, 71, 70, 70, 70,
    70, 70, 71, 71, 71, 71, 70, 70, 70, 70,
    70, 70, 70, 71, 71, 71, 71, 70, 70, 70,
]
g_migrant_err = [
    30, 40, 40, 35, 30, 28, 28, 27, 27, 26,
    24, 24, 24, 24, 24, 24, 24, 24, 24, 24,
    24, 24, 24, 24, 24, 24, 24, 24, 24, 24,
    24, 24, 24, 24, 24, 24, 24, 24, 24, 24,
    24, 24, 24, 24, 24, 24, 24, 24, 24, 24,
    24, 24, 24, 24, 24, 24, 24, 24, 24, 24,
    22, 22, 22, 22, 22, 22, 22, 22, 22, 22,
    22, 22, 22, 22, 22, 22, 22, 22, 22, 22,
    22, 22, 22, 22, 22, 22, 22, 22, 22, 22,
    22, 22, 22, 22, 22, 22, 22, 22, 22, 22,
    22, 22, 22, 22, 22, 22, 22, 22, 22, 22,
    22, 22, 22, 22, 22, 22, 22, 22, 22, 22,
    22, 22, 22, 22, 22, 22, 22, 22, 22, 22,
    22, 22, 22, 22, 22, 22, 22, 22, 22, 22,
    22, 22, 22, 22, 22, 22, 22, 22, 22, 22,
    22, 22, 22, 22, 22, 22, 22, 22, 22, 22,
    22, 22, 22, 22, 22, 22, 22, 22, 22, 22,
    22, 22, 22, 22, 22, 22, 22, 22, 22, 22,
    22, 22, 22, 22, 22, 22, 22, 22, 22, 22,
    22, 22, 22, 22, 22, 22, 22, 22, 22, 22,
]

# (h) E=4, high native share
h_native = [
    51, 55, 53, 73, 63, 79, 62, 81, 63, 61,
    59, 58, 57, 56, 56, 55, 54, 54, 53, 53,
    52, 52, 51, 50, 50, 49, 49, 48, 48, 47,
    47, 47, 46, 46, 45, 45, 45, 44, 44, 44,
    43, 43, 43, 42, 42, 42, 42, 41, 41, 41,
    41, 40, 40, 40, 40, 39, 39, 39, 39, 39,
    38, 38, 38, 38, 38, 38, 38, 38, 37, 37,
    37, 37, 37, 37, 37, 37, 37, 37, 37, 37,
    37, 37, 37, 37, 37, 37, 37, 37, 37, 37,
    37, 37, 37, 37, 37, 38, 38, 38, 38, 38,
    38, 38, 38, 38, 38, 39, 39, 39, 39, 39,
    39, 39, 39, 40, 40, 40, 40, 40, 40, 41,
    41, 41, 41, 41, 41, 42, 42, 42, 42, 42,
    42, 43, 43, 43, 43, 43, 43, 44, 44, 44,
    44, 44, 44, 45, 45, 45, 45, 45, 45, 46,
    46, 46, 46, 46, 46, 47, 47, 47, 47, 47,
    47, 47, 48, 48, 48, 48, 48, 48, 48, 49,
    49, 49, 49, 49, 49, 49, 50, 50, 50, 50,
    50, 50, 50, 50, 51, 51, 51, 51, 51, 51,
    51, 51, 51, 52, 52, 52, 52, 52, 52, 52,
]
h_native_err = [
    40, 40, 30, 30, 25, 35, 20, 30, 20, 15,
    15, 15, 15, 15, 15, 15, 15, 15, 15, 15,
    15, 15, 15, 15, 15, 15, 15, 15, 15, 15,
    15, 15, 15, 15, 15, 15, 15, 15, 15, 15,
    15, 15, 15, 15, 15, 15, 15, 15, 15, 15,
    15, 15, 15, 15, 15, 15, 15, 15, 15, 15,
    15, 15, 15, 15, 15, 15, 15, 15, 15, 15,
    15, 15, 15, 15, 15, 15, 15, 15, 15, 15,
    15, 15, 15, 15, 15, 15, 15, 15, 15, 15,
    15, 15, 15, 15, 15, 15, 15, 15, 15, 15,
    15, 15, 15, 15, 15, 15, 15, 15, 15, 15,
    15, 15, 15, 15, 15, 15, 15, 15, 15, 15,
    15, 15, 15, 15, 15, 15, 15, 15, 15, 15,
    15, 15, 15, 15, 15, 15, 15, 15, 15, 15,
    15, 15, 15, 15, 15, 15, 15, 15, 15, 15,
    15, 15, 15, 15, 15, 15, 15, 15, 15, 15,
    15, 15, 15, 15, 15, 15, 15, 15, 15, 15,
    15, 15, 15, 15, 15, 15, 15, 15, 15, 15,
    15, 15, 15, 15, 15, 15, 15, 15, 15, 15,
    15, 15, 15, 15, 15, 15, 15, 15, 15, 15,
]
h_migrant = [
    35, 34, 33, 34, 33, 32, 33, 32, 33, 33,
    34, 34, 35, 35, 36, 36, 37, 37, 38, 38,
    39, 39, 40, 40, 41, 41, 42, 42, 42, 43,
    43, 44, 44, 44, 45, 45, 46, 46, 46, 47,
    47, 47, 48, 48, 48, 49, 49, 49, 49, 50,
    50, 50, 51, 51, 51, 51, 52, 52, 52, 52,
    53, 53, 53, 53, 54, 54, 54, 54, 55, 55,
    55, 55, 55, 56, 56, 56, 56, 56, 57, 57,
    57, 57, 57, 57, 58, 58, 58, 58, 58, 58,
    59, 59, 59, 59, 59, 59, 60, 60, 60, 60,
    60, 60, 60, 61, 61, 61, 61, 61, 61, 61,
    62, 62, 62, 62, 62, 62, 62, 62, 63, 63,
    63, 63, 63, 63, 63, 63, 63, 64, 64, 64,
    64, 64, 64, 64, 64, 64, 65, 65, 65, 65,
    65, 65, 65, 65, 65, 65, 65, 66, 66, 66,
    66, 66, 66, 66, 66, 66, 66, 66, 66, 67,
    67, 67, 67, 67, 67, 67, 67, 67, 67, 67,
    67, 67, 67, 67, 67, 67, 68, 68, 68, 68,
    68, 68, 68, 68, 68, 68, 68, 68, 68, 68,
    68, 68, 68, 68, 68, 68, 68, 68, 68, 68,
]
h_migrant_err = [
    35, 40, 30, 30, 35, 30, 35, 35, 30, 30,
    30, 30, 30, 30, 30, 30, 30, 30, 30, 30,
    30, 30, 30, 30, 30, 30, 30, 30, 30, 30,
    30, 30, 30, 30, 30, 30, 30, 30, 30, 30,
    30, 30, 30, 30, 30, 30, 30, 30, 30, 30,
    30, 30, 30, 30, 30, 30, 30, 30, 30, 30,
    30, 30, 30, 30, 30, 30, 30, 30, 30, 30,
    30, 30, 30, 30, 30, 30, 30, 30, 30, 30,
    30, 30, 30, 30, 30, 30, 30, 30, 30, 30,
    30, 30, 30, 30, 30, 30, 30, 30, 30, 30,
    30, 30, 30, 30, 30, 30, 30, 30, 30, 30,
    30, 30, 30, 30, 30, 30, 30, 30, 30, 30,
    30, 30, 30, 30, 30, 30, 30, 30, 30, 30,
    30, 30, 30, 30, 30, 30, 30, 30, 30, 30,
    30, 30, 30, 30, 30, 30, 30, 30, 30, 30,
    30, 30, 30, 30, 30, 30, 30, 30, 30, 30,
    30, 30, 30, 30, 30, 30, 30, 30, 30, 30,
    30, 30, 30, 30, 30, 30, 30, 30, 30, 30,
    30, 30, 30, 30, 30, 30, 30, 30, 30, 30,
    30, 30, 30, 30, 30, 30, 30, 30, 30, 30,
]

# (i) E=15, high native share
i_native = [
    53, 43, 54, 65, 69, 71, 71, 72, 71, 69,
    66, 66, 65, 65, 64, 63, 63, 62, 62, 61,
    60, 60, 59, 59, 58, 57, 57, 56, 56, 55,
    55, 54, 54, 53, 53, 52, 52, 51, 51, 50,
    50, 50, 49, 49, 48, 48, 48, 47, 47, 47,
    46, 46, 46, 46, 45, 45, 45, 45, 44, 44,
    44, 44, 44, 44, 43, 43, 43, 43, 43, 43,
    43, 42, 42, 42, 42, 42, 42, 42, 42, 42,
    42, 42, 42, 42, 42, 42, 42, 42, 42, 42,
    42, 42, 42, 42, 42, 42, 42, 42, 42, 42,
    42, 42, 42, 43, 43, 43, 43, 43, 43, 43,
    43, 43, 44, 44, 44, 44, 44, 44, 44, 45,
    45, 45, 45, 45, 45, 46, 46, 46, 46, 46,
    46, 46, 47, 47, 47, 47, 47, 48, 48, 48,
    48, 48, 48, 48, 49, 49, 49, 49, 49, 49,
    49, 50, 50, 50, 50, 50, 50, 51, 51, 51,
    51, 51, 51, 52, 52, 52, 52, 52, 52, 53,
    53, 53, 53, 53, 53, 54, 54, 54, 54, 54,
    54, 54, 55, 55, 55, 55, 55, 55, 55, 56,
    56, 56, 56, 56, 56, 56, 57, 57, 57, 57,
]
i_native_err = [
    40, 20, 30, 30, 20, 15, 15, 15, 15, 15,
    15, 15, 15, 15, 15, 15, 15, 15, 15, 15,
    15, 15, 15, 15, 15, 15, 15, 15, 15, 15,
    15, 15, 15, 15, 15, 15, 15, 15, 15, 15,
    15, 15, 15, 15, 15, 15, 15, 15, 15, 15,
    15, 15, 15, 15, 15, 15, 15, 15, 15, 15,
    15, 15, 15, 15, 15, 15, 15, 15, 15, 15,
    15, 15, 15, 15, 15, 15, 15, 15, 15, 15,
    15, 15, 15, 15, 15, 15, 15, 15, 15, 15,
    15, 15, 15, 15, 15, 15, 15, 15, 15, 15,
    15, 15, 15, 15, 15, 15, 15, 15, 15, 15,
    15, 15, 15, 15, 15, 15, 15, 15, 15, 15,
    15, 15, 15, 15, 15, 15, 15, 15, 15, 15,
    15, 15, 15, 15, 15, 15, 15, 15, 15, 15,
    15, 15, 15, 15, 15, 15, 15, 15, 15, 15,
    15, 15, 15, 15, 15, 15, 15, 15, 15, 15,
    15, 15, 15, 15, 15, 15, 15, 15, 15, 15,
    15, 15, 15, 15, 15, 15, 15, 15, 15, 15,
    15, 15, 15, 15, 15, 15, 15, 15, 15, 15,
    15, 15, 15, 15, 15, 15, 15, 15, 15, 15,
]
i_migrant = [
    36, 35, 35, 36, 36, 36, 37, 37, 37, 38,
    38, 39, 39, 40, 40, 41, 41, 42, 42, 42,
    43, 43, 44, 44, 45, 45, 45, 46, 46, 46,
    47, 47, 48, 48, 48, 49, 49, 49, 50, 50,
    50, 51, 51, 51, 52, 52, 52, 53, 53, 53,
    54, 54, 54, 55, 55, 55, 55, 56, 56, 56,
    56, 57, 57, 57, 57, 58, 58, 58, 58, 58,
    59, 59, 59, 59, 59, 60, 60, 60, 60, 60,
    61, 61, 61, 61, 61, 61, 62, 62, 62, 62,
    62, 62, 63, 63, 63, 63, 63, 63, 63, 64,
    64, 64, 64, 64, 64, 64, 65, 65, 65, 65,
    65, 65, 65, 65, 66, 66, 66, 66, 66, 66,
    66, 66, 66, 67, 67, 67, 67, 67, 67, 67,
    67, 67, 67, 68, 68, 68, 68, 68, 68, 68,
    68, 68, 68, 68, 68, 69, 69, 69, 69, 69,
    69, 69, 69, 69, 69, 69, 69, 69, 70, 70,
    70, 70, 70, 70, 70, 70, 70, 70, 70, 70,
    70, 70, 70, 70, 70, 70, 71, 71, 71, 71,
    71, 71, 71, 71, 71, 71, 71, 71, 71, 71,
    71, 71, 71, 71, 71, 71, 71, 71, 71, 71,
]
i_migrant_err = [
    30, 30, 30, 30, 30, 30, 30, 30, 30, 30,
    30, 30, 30, 30, 30, 30, 30, 30, 30, 30,
    30, 30, 30, 30, 30, 30, 30, 30, 30, 30,
    30, 30, 30, 30, 30, 30, 30, 30, 30, 30,
    30, 30, 30, 30, 30, 30, 30, 30, 30, 30,
    30, 30, 30, 30, 30, 30, 30, 30, 30, 30,
    30, 30, 30, 30, 30, 30, 30, 30, 30, 30,
    30, 30, 30, 30, 30, 30, 30, 30, 30, 30,
    30, 30, 30, 30, 30, 30, 30, 30, 30, 30,
    30, 30, 30, 30, 30, 30, 30, 30, 30, 30,
    30, 30, 30, 30, 30, 30, 30, 30, 30, 30,
    30, 30, 30, 30, 30, 30, 30, 30, 30, 30,
    30, 30, 30, 30, 30, 30, 30, 30, 30, 30,
    30, 30, 30, 30, 30, 30, 30, 30, 30, 30,
    30, 30, 30, 30, 30, 30, 30, 30, 30, 30,
    30, 30, 30, 30, 30, 30, 30, 30, 30, 30,
    30, 30, 30, 30, 30, 30, 30, 30, 30, 30,
    30, 30, 30, 30, 30, 30, 30, 30, 30, 30,
    30, 30, 30, 30, 30, 30, 30, 30, 30, 30,
    30, 30, 30, 30, 30, 30, 30, 30, 30, 30,
]

# (j) E=100, high native share
j_native = [
    47, 33, 57, 71, 74, 73, 69, 68, 67, 66,
    64, 64, 63, 63, 62, 61, 61, 60, 60, 59,
    59, 58, 58, 57, 57, 57, 56, 56, 55, 55,
    54, 54, 53, 53, 52, 52, 52, 51, 51, 51,
    50, 50, 50, 49, 49, 49, 49, 48, 48, 48,
    48, 47, 47, 47, 47, 46, 46, 46, 46, 46,
    45, 45, 45, 45, 45, 45, 44, 44, 44, 44,
    44, 44, 44, 44, 44, 44, 44, 44, 44, 44,
    44, 44, 44, 44, 44, 44, 44, 44, 44, 44,
    44, 44, 44, 44, 44, 44, 44, 44, 44, 44,
    44, 44, 45, 45, 45, 45, 45, 45, 45, 45,
    45, 45, 45, 45, 46, 46, 46, 46, 46, 46,
    46, 46, 46, 47, 47, 47, 47, 47, 47, 47,
    47, 48, 48, 48, 48, 48, 48, 48, 48, 49,
    49, 49, 49, 49, 49, 49, 49, 50, 50, 50,
    50, 50, 50, 50, 50, 50, 51, 51, 51, 51,
    51, 51, 51, 51, 52, 52, 52, 52, 52, 52,
    52, 52, 53, 53, 53, 53, 53, 53, 53, 54,
    54, 54, 54, 54, 54, 54, 54, 55, 55, 55,
    55, 55, 55, 55, 55, 55, 55, 56, 56, 56,
]
j_native_err = [
    50, 35, 20, 15, 15, 15, 15, 15, 15, 15,
    15, 15, 15, 15, 15, 15, 15, 15, 15, 15,
    15, 15, 15, 15, 15, 15, 15, 15, 15, 15,
    15, 15, 15, 15, 15, 15, 15, 15, 15, 15,
    15, 15, 15, 15, 15, 15, 15, 15, 15, 15,
    15, 15, 15, 15, 15, 15, 15, 15, 15, 15,
    15, 15, 15, 15, 15, 15, 15, 15, 15, 15,
    15, 15, 15, 15, 15, 15, 15, 15, 15, 15,
    15, 15, 15, 15, 15, 15, 15, 15, 15, 15,
    15, 15, 15, 15, 15, 15, 15, 15, 15, 15,
    15, 15, 15, 15, 15, 15, 15, 15, 15, 15,
    15, 15, 15, 15, 15, 15, 15, 15, 15, 15,
    15, 15, 15, 15, 15, 15, 15, 15, 15, 15,
    15, 15, 15, 15, 15, 15, 15, 15, 15, 15,
    15, 15, 15, 15, 15, 15, 15, 15, 15, 15,
    15, 15, 15, 15, 15, 15, 15, 15, 15, 15,
    15, 15, 15, 15, 15, 15, 15, 15, 15, 15,
    15, 15, 15, 15, 15, 15, 15, 15, 15, 15,
    15, 15, 15, 15, 15, 15, 15, 15, 15, 15,
    15, 15, 15, 15, 15, 15, 15, 15, 15, 15,
]
j_migrant = [
    44, 43, 43, 43, 43, 43, 43, 43, 44, 44,
    44, 44, 45, 45, 45, 46, 46, 46, 47, 47,
    47, 47, 48, 48, 48, 49, 49, 49, 49, 50,
    50, 50, 50, 51, 51, 51, 51, 52, 52, 52,
    52, 53, 53, 53, 53, 53, 54, 54, 54, 54,
    54, 55, 55, 55, 55, 55, 56, 56, 56, 56,
    56, 57, 57, 57, 57, 57, 57, 58, 58, 58,
    58, 58, 58, 58, 59, 59, 59, 59, 59, 59,
    59, 59, 60, 60, 60, 60, 60, 60, 60, 60,
    61, 61, 61, 61, 61, 61, 61, 61, 61, 62,
    62, 62, 62, 62, 62, 62, 62, 62, 62, 63,
    63, 63, 63, 63, 63, 63, 63, 63, 63, 63,
    64, 64, 64, 64, 64, 64, 64, 64, 64, 64,
    64, 64, 64, 65, 65, 65, 65, 65, 65, 65,
    65, 65, 65, 65, 65, 65, 65, 66, 66, 66,
    66, 66, 66, 66, 66, 66, 66, 66, 66, 66,
    66, 66, 66, 66, 66, 67, 67, 67, 67, 67,
    67, 67, 67, 67, 67, 67, 67, 67, 67, 67,
    67, 67, 67, 67, 67, 67, 67, 67, 67, 67,
    67, 67, 67, 67, 67, 67, 67, 67, 67, 67,
]
j_migrant_err = [
    35, 30, 30, 30, 30, 30, 30, 30, 30, 30,
    28, 28, 28, 28, 28, 28, 28, 28, 28, 28,
    28, 28, 28, 28, 28, 28, 28, 28, 28, 28,
    28, 28, 28, 28, 28, 28, 28, 28, 28, 28,
    28, 28, 28, 28, 28, 28, 28, 28, 28, 28,
    28, 28, 28, 28, 28, 28, 28, 28, 28, 28,
    28, 28, 28, 28, 28, 28, 28, 28, 28, 28,
    28, 28, 28, 28, 28, 28, 28, 28, 28, 28,
    28, 28, 28, 28, 28, 28, 28, 28, 28, 28,
    28, 28, 28, 28, 28, 28, 28, 28, 28, 28,
    28, 28, 28, 28, 28, 28, 28, 28, 28, 28,
    28, 28, 28, 28, 28, 28, 28, 28, 28, 28,
    28, 28, 28, 28, 28, 28, 28, 28, 28, 28,
    28, 28, 28, 28, 28, 28, 28, 28, 28, 28,
    28, 28, 28, 28, 28, 28, 28, 28, 28, 28,
    28, 28, 28, 28, 28, 28, 28, 28, 28, 28,
    28, 28, 28, 28, 28, 28, 28, 28, 28, 28,
    28, 28, 28, 28, 28, 28, 28, 28, 28, 28,
    28, 28, 28, 28, 28, 28, 28, 28, 28, 28,
    28, 28, 28, 28, 28, 28, 28, 28, 28, 28,
]

panels = [
    (a_native, a_native_err, a_migrant, a_migrant_err),
    (b_native, b_native_err, b_migrant, b_migrant_err),
    (c_native, c_native_err, c_migrant, c_migrant_err),
    (d_native, d_native_err, d_migrant, d_migrant_err),
    (e_native, e_native_err, e_migrant, e_migrant_err),
    (f_native, f_native_err, f_migrant, f_migrant_err),
    (g_native, g_native_err, g_migrant, g_migrant_err),
    (h_native, h_native_err, h_migrant, h_migrant_err),
    (i_native, i_native_err, i_migrant, i_migrant_err),
    (j_native, j_native_err, j_migrant, j_migrant_err),
]

bad = [(panel_letters[k], m, len(s)) for k, p in enumerate(panels)
       for m, s in enumerate(p) if len(s) != len(time)]
if bad:
    raise ValueError(f"series length mismatch: {bad}")


def level(vals):
    return [None if v is None else v / 100 for v in vals]


def spread(vals):
    return [v / 1000 for v in vals]


# ---------------------------------------------------------------- layout
FONT = "Liberation Sans"
TEXT = "#262626"
GREEN = "#008000"
BLUE = "#0000FF"

col_left = [60, 743]
col_w = 668
row_top0, row_step, row_h = 76, 263, 215


def px_x(p):
    return p / W


def px_y(p):
    return 1 - p / H


native_label = ("Native tolerance <span style='font-family:Liberation Serif'>"
                "<i>f\u0304</i><sub><i>G</i></sub></span>")
migrant_label = ("Migrant tolerance <span style='font-family:Liberation Serif'>"
                 "<i>f\u0304</i><sub><i>B</i></sub></span>")

fig = go.Figure()
layout = {}
annotations = []
shapes = []

for k, (nat, nat_err, mig, mig_err) in enumerate(panels):
    c, r = divmod(k, 5)
    n = k + 1
    sfx = "" if n == 1 else str(n)
    xid, yid, lid = "x" + sfx, "y" + sfx, "legend" + sfx
    top = row_top0 + r * row_step
    left = col_left[c]

    fig.add_trace(go.Scatter(
        x=time, y=level(nat), mode="lines", name=native_label,
        line=dict(color=GREEN, width=1.6),
        error_y=dict(type="data", array=spread(nat_err), color=GREEN,
                     thickness=1.3, width=1.6),
        xaxis=xid, yaxis=yid, legend=lid, hoverinfo="skip"))
    fig.add_trace(go.Scatter(
        x=time, y=level(mig), mode="lines", name=migrant_label,
        line=dict(color=BLUE, width=1.6),
        error_y=dict(type="data", array=spread(mig_err), color=BLUE,
                     thickness=1.3, width=1.6),
        xaxis=xid, yaxis=yid, legend=lid, hoverinfo="skip"))

    tick_size = 12.5 if k == 9 else 10.5
    layout["xaxis" + sfx] = dict(
        domain=[px_x(left), px_x(left + col_w)], anchor=yid,
        range=[0, time[-1]], tickvals=x_ticks,
        ticktext=[str(v) for v in x_ticks], showgrid=True,
        gridcolor="white", gridwidth=1, zeroline=False, showline=False,
        automargin=False, ticks="",
        tickfont=dict(family=FONT, size=tick_size, color="#333333"))
    layout["yaxis" + sfx] = dict(
        domain=[px_y(top + row_h), px_y(top)], anchor=xid,
        range=[0, 1], tickvals=y_ticks, tickformat=".1f",
        showticklabels=(c == 0), showgrid=True, gridcolor="white",
        gridwidth=1, zeroline=False, showline=False, automargin=False,
        ticks="outside", ticklen=2, tickwidth=1, tickcolor="#333333",
        mirror="ticks", ticklabelstandoff=1,
        tickfont=dict(family=FONT, size=10.5, color="#333333"))

    if k == 0:
        leg_y, leg_anchor = px_y(top + row_h / 2), "middle"
    else:
        leg_y, leg_anchor = px_y(top + 6), "top"
    layout[lid] = dict(
        x=px_x(left + col_w - 12), xanchor="right", y=leg_y,
        yanchor=leg_anchor, bgcolor="rgba(0,0,0,0)", borderwidth=0,
        font=dict(family=FONT, size=13, color=TEXT), tracegroupgap=0,
        itemwidth=30)

    # burn-in marker
    shapes.append(dict(
        type="line", xref=xid, yref=yid + " domain", x0=burn_in, x1=burn_in,
        y0=0, y1=1, layer="above",
        line=dict(color="black" if c == 0 else "#6e6e6e",
                  width=1.2 if c == 0 else 2,
                  dash="5px,3px" if c == 0 else "7px,5px")))

    # panel letter below the axis
    annotations.append(dict(
        x=px_x(left + col_w / 2), y=px_y(top + row_h + 27), xref="paper",
        yref="paper", text=f"({panel_letters[k]})", showarrow=False,
        xanchor="center", yanchor="middle",
        font=dict(family=FONT, size=13, color=TEXT)))
    if r == 4:
        annotations.append(dict(
            x=px_x(left + col_w / 2), y=px_y(top + row_h + 41), xref="paper",
            yref="paper", text="time", showarrow=False, xanchor="center",
            yanchor="middle", font=dict(family=FONT, size=13, color=TEXT)))
    if c == 0:
        annotations.append(dict(
            x=px_x(20), y=px_y(top + row_h / 2), xref="paper", yref="paper",
            text=f"{exposure_labels[r]}<br>tolerance level", textangle=-90,
            showarrow=False, xanchor="center", yanchor="middle",
            font=dict(family=FONT, size=13, color=TEXT)))

for c in range(2):
    annotations.append(dict(
        x=px_x(col_left[c] + col_w / 2), y=px_y(66), xref="paper",
        yref="paper", text=column_titles[c], showarrow=False,
        xanchor="center", yanchor="middle",
        font=dict(family="Liberation Serif", size=17, color=TEXT)))

for line_text, line_y in zip(title_lines, [15, 40]):
    annotations.append(dict(
        x=0.5, y=px_y(line_y), xref="paper", yref="paper", text=line_text,
        showarrow=False, xanchor="center", yanchor="middle",
        font=dict(family=FONT, size=23.5, color=TEXT)))

fig.update_layout(
    template="none",
    width=W, height=H, margin=dict(l=0, r=0, t=0, b=0, pad=0),
    paper_bgcolor="white", plot_bgcolor="#EAEAF2",
    font=dict(family=FONT, color=TEXT), showlegend=True,
    annotations=annotations, shapes=shapes, **layout)

fig.write_html("out.html")
